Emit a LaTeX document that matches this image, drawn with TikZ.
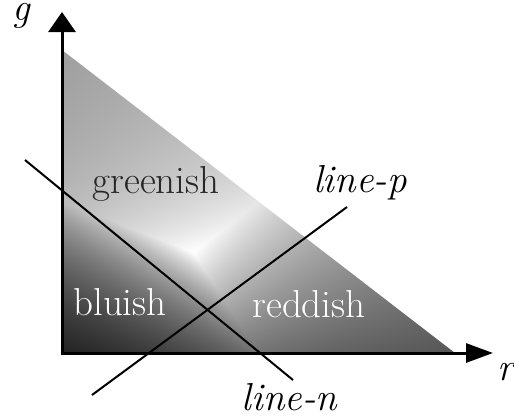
\documentclass[tikz,border=0pt]{standalone}
\usetikzlibrary{arrows.meta}
\pgfdeclarefunctionalshading{chroma}{\pgfpointorigin}{\pgfpoint{393bp}{303bp}}{}{
303 div exch 393 div exch
2 copy add 1 exch sub dup 0 lt {pop 0} if
3 copy 0.11 mul exch 0.59 mul add exch 0.3 mul add
4 1 roll
2 copy lt {exch} if pop
2 copy lt {exch} if pop
div dup 1 gt {pop 1} if
0.9 exp
dup dup
}
\begin{document}
\begin{tikzpicture}[x=1bp,y=-1bp,
  txt/.style={font=\fontsize{39bp}{46bp}\selectfont, inner sep=0pt, anchor=base},
  axisline/.style={line width=3bp, black},
  sepline/.style={line width=2bp, black}]
\useasboundingbox (0,0) rectangle (514,419);
\coordinate (A) at (62,50);
\coordinate (B) at (62,353);
\coordinate (C) at (455,353);
\begin{scope}
\clip (A) -- (B) -- (C) -- cycle;
\node[inner sep=0pt, outer sep=0pt, anchor=south west] (shade) at (B) {\pgfuseshading{chroma}};
\end{scope}
% axes
\coordinate (Ov) at (62,354.5);
\coordinate (Oh) at (60.5,353);
\coordinate (gtip) at (62,12);
\coordinate (rtip) at (493,353);
\draw[axisline, -{Triangle[length=20bp,width=27bp]}] (Ov) -- (gtip);
\draw[axisline, -{Triangle[length=27bp,width=19bp]}] (Oh) -- (rtip);
% lines
\coordinate (n1) at (25,160);
\coordinate (n2) at (293,380);
\coordinate (p1) at (92,395);
\coordinate (p2) at (347,207);
\draw[sepline] (n1) -- (n2);
\draw[sepline] (p1) -- (p2);
% labels
\node[txt] (lg) at (22,20) {\textit{g}};
\node[txt, anchor=base west] (lr) at (497,380) {\textit{r}};
\node[txt, text=black!85] (green) at (156,193) {greenish};
\node[txt, text=white] (blue) at (120,315) {bluish};
\node[txt, text=white] (red) at (309,317) {reddish};
\node[txt] (lp) at (360,192) {\textit{line-p}};
\node[txt] (ln) at (290,410) {\textit{line-n}};
\end{tikzpicture}
\end{document}
